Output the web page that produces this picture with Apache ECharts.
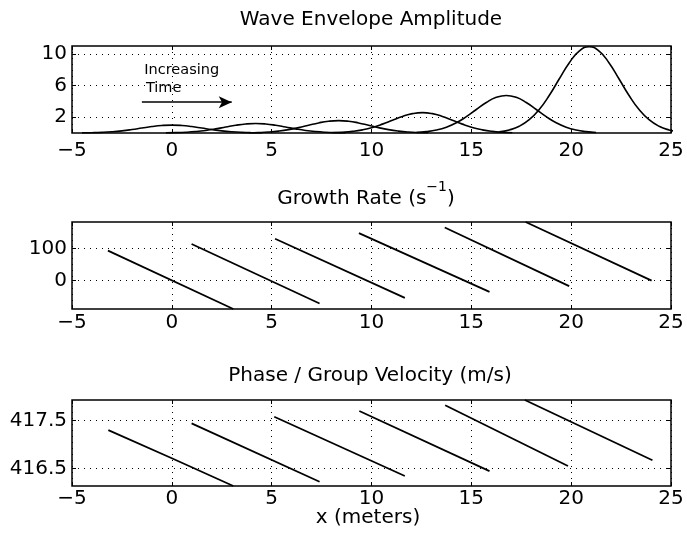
<!DOCTYPE html>
<html><head><meta charset="utf-8">
<script src="https://cdn.jsdelivr.net/npm/echarts@6/dist/echarts.min.js"></script>
<style>html,body{margin:0;padding:0;background:#fff}#c{width:687px;height:539px}</style>
</head><body><div id="c"></div>
<script>
// ---- axes / ticks ----
const xRange = [-5, 25];
const xStep = 5;
const envRange = [0, 11];
const envTicks = [2, 6, 10];
const growthRange = [-88, 182];
const growthTicks = [0, 100];
const phaseRange = [416.13, 417.93];
const phaseTicks = [416.5, 417.5];

// ---- wave envelope amplitude curves (x, amplitude) ----
const env1 = [[-4.5,.015],[-4,.036],[-3.5,.078],[-3,.154],[-2.5,.272],[-2,.435],[-1.5,.626],[-1,.812],[-0.5,.949],[0,1.0],[0.5,.949],[1,.812],[1.5,.626],[2,.435],[2.5,.272],[3,.154],[3.5,.078],[4,.036],[4.5,.015]];
const env2 = [[-0.3,.018],[0.2,.043],[0.7,.094],[1.2,.185],[1.7,.326],[2.2,.522],[2.7,.751],[3.2,.974],[3.7,1.139],[4.2,1.2],[4.7,1.139],[5.2,.974],[5.7,.751],[6.2,.522],[6.7,.326],[7.2,.185],[7.7,.094],[8.2,.043],[8.7,.018]];
const env3 = [[3.85,.024],[4.35,.057],[4.85,.122],[5.35,.242],[5.85,.427],[6.35,.683],[6.85,.983],[7.35,1.275],[7.85,1.49],[8.35,1.57],[8.85,1.49],[9.35,1.275],[9.85,.983],[10.35,.683],[10.85,.427],[11.35,.242],[11.85,.122],[12.35,.057],[12.85,.024]];
const env4 = [[8.05,.039],[8.55,.093],[9.05,.201],[9.55,.397],[10.05,.702],[10.55,1.122],[11.05,1.615],[11.55,2.095],[12.05,2.448],[12.55,2.58],[13.05,2.448],[13.55,2.095],[14.05,1.615],[14.55,1.122],[15.05,.702],[15.55,.397],[16.05,.201],[16.55,.093],[17.05,.039]];
const env5 = [[12.25,.071],[12.75,.171],[13.25,.371],[13.75,.732],[14.25,1.292],[14.75,2.066],[15.25,2.974],[15.75,3.857],[16.25,4.508],[16.75,4.75],[17.25,4.508],[17.75,3.857],[18.25,2.974],[18.75,2.066],[19.25,1.292],[19.75,.732],[20.25,.371],[20.75,.171],[21.25,.071]];
const env6 = [[16.4,.164],[16.9,.392],[17.4,.85],[17.9,1.679],[18.4,2.965],[18.9,4.742],[19.4,6.823],[19.9,8.851],[20.4,10.344],[20.9,10.9],[21.4,10.344],[21.9,8.851],[22.4,6.823],[22.9,4.742],[23.4,2.965],[23.9,1.679],[24.4,.85],[24.9,.392],[25.4,.164]];

// ---- growth rate segments ----
const growth1 = [[-3.2,93],[3.08,-88]];
const growth2 = [[0.99,113.6],[7.40,-71]];
const growth3 = [[5.17,130],[11.67,-53.6]];
const growth4 = [[9.37,147.6],[15.91,-35]];
const growth5 = [[13.67,165],[19.9,-17]];
const growth6 = [[17.72,182],[24.03,0]];

// ---- phase / group velocity segments ----
const phase1 = [[-3.18,417.30],[0,416.71],[3.08,416.13]];
const phase2 = [[0.99,417.44],[7.40,416.22]];
const phase3 = [[5.13,417.58],[11.67,416.34]];
const phase4 = [[9.39,417.70],[15.91,416.44]];
const phase5 = [[13.69,417.82],[19.84,416.55]];
const phase6 = [[17.68,417.93],[24.07,416.67]];

// ---- annotation ----
const annoText = [[-1.38, 7.99, 'Increasing'], [-1.30, 5.67, 'Time']];
const arrowFrom = [-1.5, 3.9];
const arrowTo = [3.0, 3.9];

const FONT = 'DejaVu Sans';
const BLACK = '#000';

function fmtX(v){ return v < 0 ? '\u2212' + Math.abs(v) : String(v); }

const grids = [
  {left:72, right:16, top:46, height:87},
  {left:72, right:16, top:222, height:87},
  {left:72, right:16, top:400, height:86}
].map(g => Object.assign(g, {show:true, borderColor:BLACK, borderWidth:1.5, backgroundColor:'#fff', containLabel:false, outerBoundsMode:'none'}));

const tickStyle = {show:true, inside:true, length:4, lineStyle:{color:BLACK, width:1}};
const splitStyle = {show:true, lineStyle:{color:BLACK, width:1, type:[1,5]}};
const noLine = {show:false, onZero:false};

function xAxes(g, margin){
  return [
    {type:'value', gridIndex:g, position:'bottom', min:xRange[0], max:xRange[1], interval:xStep,
     axisLine:noLine, axisTick:tickStyle,
     axisLabel:{show:true, margin:margin, color:BLACK, fontFamily:FONT, fontSize:20, formatter:fmtX},
     splitLine:splitStyle},
    {type:'value', gridIndex:g, position:'top', min:xRange[0], max:xRange[1], interval:xStep,
     axisLine:noLine, axisTick:tickStyle, axisLabel:{show:false}, splitLine:{show:false}}
  ];
}
function yAxes(g, range, ticks, fmt){
  return [
    {type:'value', gridIndex:g, position:'left', min:range[0], max:range[1],
     axisLine:noLine,
     axisTick:Object.assign({customValues:ticks}, tickStyle),
     axisLabel:{show:true, customValues:ticks, margin:5, color:BLACK, fontFamily:FONT, fontSize:20, formatter:fmt},
     splitLine:splitStyle},
    {type:'value', gridIndex:g, position:'right', min:range[0], max:range[1],
     axisLine:noLine,
     axisTick:Object.assign({customValues:ticks}, tickStyle),
     axisLabel:{show:false}, splitLine:{show:false}}
  ];
}

function lineSeries(data, g, width){
  return {type:'line', xAxisIndex:2*g, yAxisIndex:2*g, data:data, symbol:'none', showSymbol:false,
          smooth:g === 0, clip:true, silent:true, lineStyle:{color:BLACK, width:width}, z:3};
}

const envSeries = [env1, env2, env3, env4, env5, env6].map(d => lineSeries(d, 0, 1.6));
envSeries[0].markLine = {
  silent:true, symbol:['none','arrow'], symbolSize:[9,13], animation:false,
  label:{show:false}, lineStyle:{color:BLACK, width:1.5, type:'solid'},
  emphasis:{disabled:true},
  data:[[{coord:arrowFrom}, {coord:arrowTo}]]
};
envSeries[0].markPoint = {
  silent:true, animation:false, symbol:'circle', symbolSize:0,
  itemStyle:{color:BLACK},
  label:{show:true, position:'right', distance:0, color:BLACK, fontFamily:FONT, fontSize:14.5, opacity:1},
  data:annoText.map(a => ({coord:[a[0], a[1]], value:a[2], label:{formatter:a[2]}}))
};
const growthSeries = [growth1, growth2, growth3, growth4, growth5, growth6].map(d => lineSeries(d, 1, 1.8));
const phaseSeries = [phase1, phase2, phase3, phase4, phase5, phase6].map(d => lineSeries(d, 2, 1.8));

const chart = echarts.init(document.getElementById('c'), null, {renderer:'canvas'});
chart.setOption({
  animation:false,
  backgroundColor:'#fff',
  grid:grids,
  xAxis:[].concat(xAxes(0, 8), xAxes(1, 4), xAxes(2, 3)),
  yAxis:[].concat(
    yAxes(0, envRange, envTicks, v => String(v)),
    yAxes(1, growthRange, growthTicks, v => String(v)),
    yAxes(2, phaseRange, phaseTicks, v => v.toFixed(1))
  ),
  graphic:[
    {type:'text', x:371, y:20, silent:true,
     style:{text:'Wave Envelope Amplitude', fontFamily:FONT, fontSize:20, fill:BLACK, align:'center', verticalAlign:'middle'}},
    {type:'text', x:366, y:198.5, silent:true,
     style:{text:'{m|Growth Rate (s}{sup|\u22121}{m|)}', fontFamily:FONT, fontSize:20, fill:BLACK, align:'center', verticalAlign:'middle',
            rich:{m:{fontFamily:FONT, fontSize:20, lineHeight:36, fill:BLACK},
                  sup:{fontFamily:FONT, fontSize:14, lineHeight:14, verticalAlign:'top', fill:BLACK}}}},
    {type:'text', x:370, y:375.5, silent:true,
     style:{text:'Phase / Group Velocity (m/s)', fontFamily:FONT, fontSize:20, fill:BLACK, align:'center', verticalAlign:'middle'}},
    {type:'text', x:368, y:518, silent:true,
     style:{text:'x (meters)', fontFamily:FONT, fontSize:20, fill:BLACK, align:'center', verticalAlign:'middle'}}
  ],
  series:[].concat(envSeries, growthSeries, phaseSeries)
});
</script>
</body></html>
